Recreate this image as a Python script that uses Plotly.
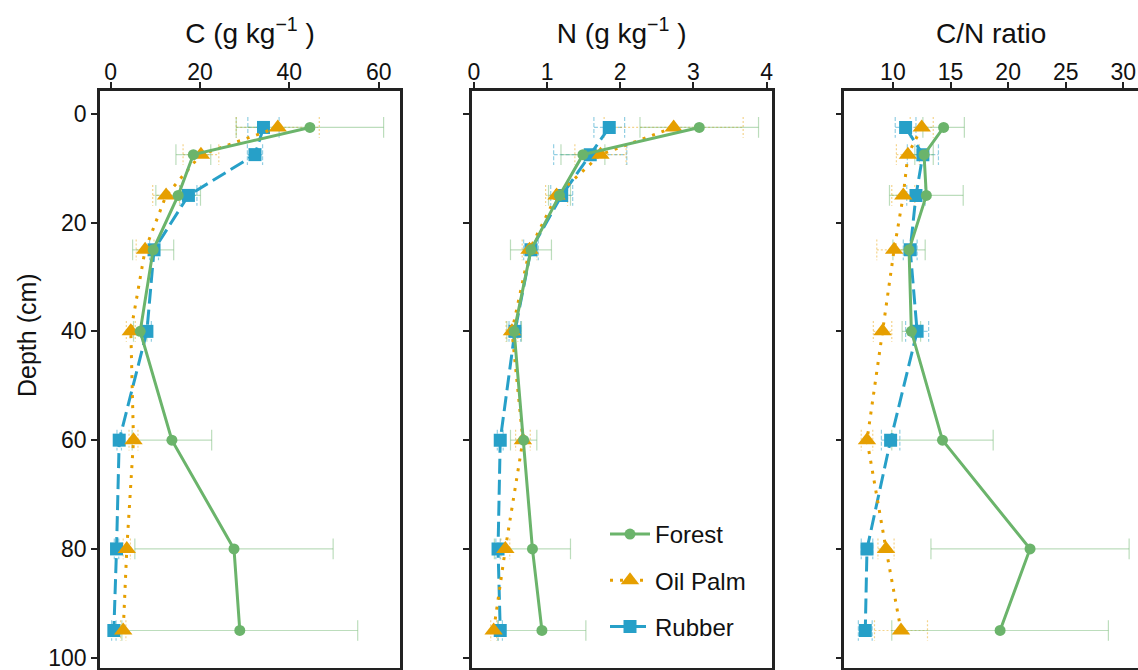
import plotly.graph_objects as go

# ---------------- data ----------------
depth = [2.5, 7.5, 15, 25, 40, 60, 80, 95]
series_names = ["Forest", "Oil Palm", "Rubber"]

forest_C = [44.6, 18.5, 15.1, 9.5, 6.6, 13.7, 27.6, 28.9]
forest_C_se = [16.5, 3.9, 5.0, 4.6, 1.5, 8.9, 22.2, 26.4]
oil_C = [37.4, 20.2, 12.4, 7.7, 4.5, 5.1, 3.6, 2.8]
oil_C_se = [9.3, 4.0, 3.0, 2.0, 1.0, 1.0, 0.8, 0.6]
rub_C = [34.2, 32.3, 17.4, 9.7, 8.1, 1.9, 1.3, 0.7]
rub_C_se = [3.5, 1.7, 1.9, 1.0, 1.0, 0.5, 0.5, 0.5]

forest_N = [3.08, 1.49, 1.17, 0.78, 0.55, 0.68, 0.80, 0.93]
forest_N_se = [0.81, 0.30, 0.15, 0.28, 0.10, 0.18, 0.52, 0.60]
oil_N = [2.73, 1.73, 1.13, 0.76, 0.52, 0.67, 0.43, 0.27]
oil_N_se = [0.95, 0.35, 0.15, 0.10, 0.08, 0.10, 0.06, 0.04]
rub_N = [1.85, 1.59, 1.20, 0.78, 0.56, 0.36, 0.33, 0.36]
rub_N_se = [0.21, 0.50, 0.15, 0.10, 0.08, 0.04, 0.03, 0.03]

forest_CN = [14.4, 12.7, 12.9, 11.4, 11.6, 14.3, 21.9, 19.3]
forest_CN_se = [1.8, 0.8, 3.2, 1.4, 0.8, 4.4, 8.6, 9.4]
oil_CN = [12.5, 11.3, 10.9, 10.1, 9.1, 7.75, 9.4, 10.7]
oil_CN_se = [1.0, 1.0, 1.0, 1.5, 0.8, 0.5, 0.7, 2.3]
rub_CN = [11.1, 12.6, 12.0, 11.5, 12.1, 9.8, 7.75, 7.6]
rub_CN_se = [0.9, 1.35, 0.8, 0.6, 1.0, 0.8, 0.5, 0.6]

panel_titles = ["C (g kg<sup>\u22121</sup> )", "N (g kg<sup>\u22121</sup> )", "C/N ratio"]
y_title = "Depth (cm)"
x_ticks = [[0, 20, 40, 60], [0, 1, 2, 3, 4], [10, 15, 20, 25, 30]]
y_ticks = [0, 20, 40, 60, 80, 100]

# ---------------- styles ----------------
W, H = 1138, 670
FONT = "Liberation Sans, Arial, sans-serif"
colors = {"Forest": "#6BB46B", "Oil Palm": "#E69F00", "Rubber": "#27A0C8"}
err_colors = {"Forest": "rgba(107,180,107,0.45)", "Oil Palm": "rgba(230,159,0,0.45)",
              "Rubber": "rgba(39,160,200,0.5)"}
line_dash = {"Forest": "solid", "Oil Palm": "3px,7px", "Rubber": "15px,6px"}
err_dash = {"Forest": "solid", "Oil Palm": "2px,2px", "Rubber": "4px,2px"}
symbols = {"Forest": "circle", "Oil Palm": "triangle-up", "Rubber": "square"}
msize = {"Forest": 11, "Oil Palm": 16, "Rubber": 13}
CAP = 1.9  # cap half-height in depth units

panels = [
    {"Forest": (forest_C, forest_C_se), "Oil Palm": (oil_C, oil_C_se), "Rubber": (rub_C, rub_C_se)},
    {"Forest": (forest_N, forest_N_se), "Oil Palm": (oil_N, oil_N_se), "Rubber": (rub_N, rub_N_se)},
    {"Forest": (forest_CN, forest_CN_se), "Oil Palm": (oil_CN, oil_CN_se), "Rubber": (rub_CN, rub_CN_se)},
]


def err_segments(vals, ses, depths):
    xs, ys = [], []
    for v, e, d in zip(vals, ses, depths):
        xs += [v - e, v + e, None, v - e, v - e, None, v + e, v + e, None]
        ys += [d, d, None, d - CAP, d + CAP, None, d - CAP, d + CAP, None]
    return xs, ys


fig = go.Figure()
draw_order = ["Rubber", "Oil Palm", "Forest"]
for i, pdata in enumerate(panels):
    xa = "x" if i == 0 else f"x{i+1}"
    ya = "y" if i == 0 else f"y{i+1}"
    # error bars first
    for name in draw_order:
        vals, ses = pdata[name]
        ex, ey = err_segments(vals, ses, depth)
        fig.add_trace(go.Scatter(x=ex, y=ey, mode="lines", xaxis=xa, yaxis=ya,
                                 line=dict(color=err_colors[name], width=1.2, dash=err_dash[name]),
                                 showlegend=False, hoverinfo="skip"))
    for name in draw_order:
        vals, ses = pdata[name]
        fig.add_trace(go.Scatter(
            x=vals, y=depth, mode="lines+markers", name=name, xaxis=xa, yaxis=ya,
            line=dict(color=colors[name], width=3, dash=line_dash[name]),
            marker=dict(symbol=symbols[name], size=msize[name], color=colors[name], line=dict(width=0)),
            showlegend=(i == 1), legendgroup=name,
            legendrank={"Forest": 1, "Oil Palm": 2, "Rubber": 3}[name],
        ))

axis_common = dict(showgrid=False, zeroline=False, showline=True, linecolor="#222",
                   linewidth=2.5, ticks="outside", ticklen=6, tickwidth=2, tickcolor="#222",
                   automargin=False, ticklabeloverflow="allow",
                   tickfont=dict(size=23, color="#111", family=FONT))

x_domains = [[100 / W, 400 / W], [471.7 / W, 771.7 / W], [844.3 / W, 1.0]]
x_ranges = [[-2.4, 64.77], [-0.03, 4.07], [5.78, 31.27]]
y_domain = [2 / H, (H - 91) / H]
y_range = [101.9, -4.2]

layout = dict(
    width=W, height=H, margin=dict(l=0, r=0, t=0, b=0, autoexpand=False),
    paper_bgcolor="white", plot_bgcolor="white",
    font=dict(family=FONT, color="#111"),
    showlegend=True,
    legend=dict(x=605 / W, y=(H - 512) / H, xanchor="left", yanchor="top",
                font=dict(size=24, family=FONT, color="#111"),
                bgcolor="rgba(0,0,0,0)", tracegroupgap=12, itemwidth=40),
    annotations=[dict(text=y_title, xref="paper", yref="paper", x=27 / W, y=(H - 335) / H,
                      textangle=-90, showarrow=False, xanchor="center", yanchor="middle",
                      font=dict(size=25, family=FONT, color="#111"))],
)
for i in range(3):
    xk = "xaxis" if i == 0 else f"xaxis{i+1}"
    yk = "yaxis" if i == 0 else f"yaxis{i+1}"
    ya = "y" if i == 0 else f"y{i+1}"
    xa = "x" if i == 0 else f"x{i+1}"
    layout[xk] = dict(axis_common, domain=x_domains[i], range=x_ranges[i], side="top",
                      anchor=ya, tickvals=x_ticks[i], mirror=True, ticklabelstandoff=-7,
                      title=dict(text=panel_titles[i], font=dict(size=28, family=FONT, color="#111"),
                                 standoff=8))
    layout[yk] = dict(axis_common, domain=y_domain, range=y_range, anchor=xa,
                      tickvals=y_ticks, mirror=(i < 2), showticklabels=(i == 0))

fig.update_layout(**layout)
fig.write_html("out.html", config={"displayModeBar": False},
               post_script="document.body.style.margin='0';")
